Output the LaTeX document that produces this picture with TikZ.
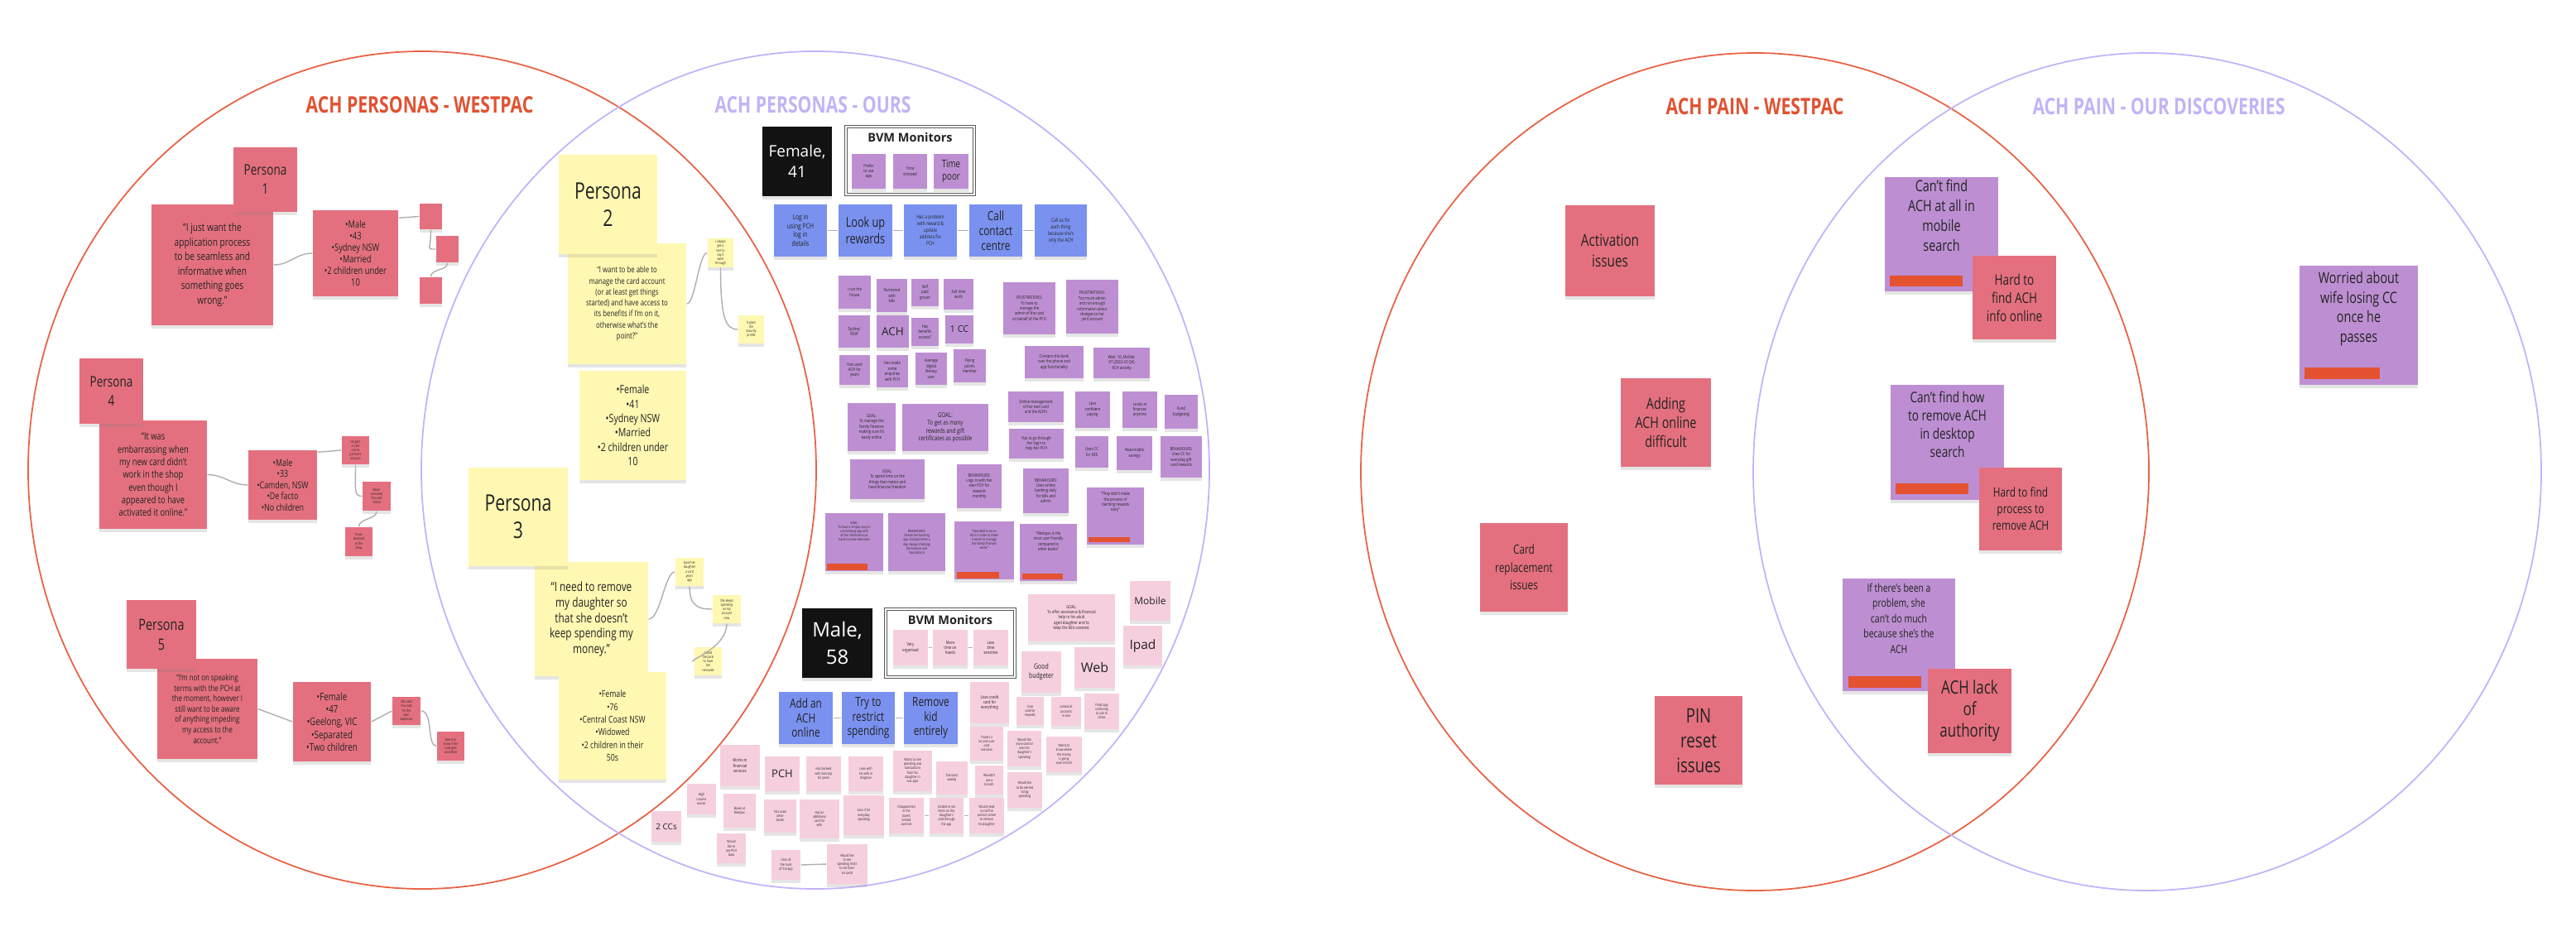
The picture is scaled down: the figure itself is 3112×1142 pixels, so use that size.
\documentclass[tikz,border=0pt]{standalone}
\usepackage{fontspec}
\setmainfont{Open Sans}[FakeStretch=0.77, Scale=1.1]
\newfontfamily\widefont{Open Sans}
\usetikzlibrary{calc,shadows}
\newdimen\pxu \pxu=0.28453pt
\newdimen\pxA \newdimen\pxB
\newcommand\pf[2]{\pxA=#1\pxu\pxB=#2\pxu\fontsize{\the\pxA}{\the\pxB}\selectfont}
\definecolor{redstick}{RGB}{228,112,127}
\definecolor{yelstick}{RGB}{255,248,178}
\definecolor{purstick}{RGB}{189,143,210}
\definecolor{pinkstick}{RGB}{246,207,223}
\definecolor{bluestick}{RGB}{122,145,240}
\definecolor{redbar}{RGB}{228,82,50}
\definecolor{circred}{RGB}{232,98,68}
\definecolor{circpur}{RGB}{196,178,250}
\definecolor{titlered}{RGB}{224,82,50}
\definecolor{titlepur}{RGB}{196,178,246}
\definecolor{inkc}{RGB}{35,35,35}
\definecolor{linkc}{RGB}{175,175,175}
\tikzset{
  sn/.style={inner sep=0pt, align=center, text=inkc,
    drop shadow={shadow xshift=0pt, shadow yshift=-1.1pt, opacity=0.2}},
  rs/.style={sn, fill=redstick},
  ys/.style={sn, fill=yelstick},
  ps/.style={sn, fill=purstick},
  ks/.style={sn, fill=pinkstick},
  bs/.style={sn, fill=bluestick},
  bk/.style={sn, fill=black!93, text=white},
  link/.style={draw=linkc, line width=0.4pt},
  vennred/.style={draw=circred, line width=0.5pt},
  vennpur/.style={draw=circpur, line width=0.5pt},
  bvmbox/.style={inner sep=0pt, draw=black!65, double=white, double distance=0.5pt, line width=0.4pt, fill=white},
  ttl/.style={font=\pf{25}{30}\bfseries},
  tiny/.style={font=\pf{5}{6.4}},
  tiny2/.style={font=\pf{4}{5.2}},
}
\newcommand\stick[7]{\node[#2,minimum width={(#5-#3)*0.01cm},minimum height={(#6-#4)*0.01cm}] (#1) at ({(#3+#5)/2},{(#4+#6)/2}) {#7};}
\newcommand\rbar[5]{\fill[redbar] ($(#1.south west)+(#2,-#3)$) rectangle ($(#1.south west)+(#4,-#5)$);}
\begin{document}
\begin{tikzpicture}[x=0.01cm,y=-0.01cm]
\useasboundingbox[fill=white] (0,0) rectangle (3112,1142);
% ---------------- Venn circles ----------------
\draw[vennred] (510,568) ellipse [x radius=476, y radius=506];
\draw[vennpur] (985,568) ellipse [x radius=476, y radius=506];
\draw[vennred] (2120,570) ellipse [x radius=476, y radius=506];
\draw[vennpur] (2594,570) ellipse [x radius=476, y radius=506];
\node[ttl, text=titlered] (t1) at (507,127) {ACH PERSONAS - WESTPAC};
\node[ttl, text=titlepur] (t2) at (982,127) {ACH PERSONAS - OURS};
\node[ttl, text=titlered] (t3) at (2120,129) {ACH PAIN - WESTPAC};
\node[ttl, text=titlepur] (t4) at (2608,129) {ACH PAIN - OUR DISCOVERIES};

% ---------------- Persona 1 ----------------
\stick{q1}{rs,font=\pf{12}{17.5}}{183}{247}{330}{393}{“I just want the\\application process\\to be seamless and\\informative when\\something goes\\wrong.”}
\stick{p1}{rs,font=\pf{16}{23}}{282}{178}{359}{256}{Persona\\1}
\stick{d1}{rs,font=\pf{11}{14}}{378}{254}{481}{358}{•Male\\•43\\•Sydney NSW\\•Married\\•2 children under\\10}
\stick{s1a}{rs}{507}{246}{534}{277}{}
\stick{s1b}{rs}{527}{285}{554}{317}{}
\stick{s1c}{rs}{507}{335}{534}{367}{}
\draw[link] (q1.east) .. controls +(20,0) and +(-20,0) .. (d1.west);
\draw[link] ($(d1.north east)+(0,10)$) -- (s1a.west);
\draw[link] (s1a.south) .. controls +(0,25) and +(-12,0) .. (s1b.west);
\draw[link] (s1b.south) .. controls +(0,10) and +(0,-10) .. (s1c.north);

% ---------------- Persona 2 ----------------
\stick{q2}{ys,font=\pf{9.2}{13.3}}{686}{294}{829}{440}{“I want to be able to\\manage the card account\\(or at least get things\\started) and have access to\\its benefits if I'm on it,\\otherwise what's the\\point?”}
\stick{p2}{ys,font=\pf{25}{33}}{675}{187}{794}{307}{Persona\\2}
\stick{d2}{ys,font=\pf{12.5}{17.3}}{700}{448}{829}{580}{•Female\\•41\\•Sydney NSW\\•Married\\•2 children under\\10}
\stick{y2a}{ys,tiny2}{855}{288}{886}{323}{I always\\get a\\text to\\say it\\went\\through}
\stick{y2b}{ys,tiny2}{892}{381}{923}{415}{It gives\\me\\security\\profile}
\draw[link] (q2.east) .. controls +(10,0) and +(-10,0) .. (y2a.west);
\draw[link] (y2a.south) .. controls +(0,60) and +(-15,0) .. (y2b.west);

% ---------------- Persona 4 ----------------
\stick{q4}{rs,font=\pf{11}{15.3}}{120}{508}{250}{639}{“It was\\embarrassing when\\my new card didn't\\work in the shop\\even though I\\appeared to have\\activated it online.”}
\stick{p4}{rs,font=\pf{16}{23}}{96}{433}{173}{512}{Persona\\4}
\stick{d4}{rs,font=\pf{10.5}{13.5}}{300}{544}{383}{628}{•Male\\•33\\•Camden, NSW\\•De facto\\•No children}
\stick{s4a}{rs,tiny2}{413}{527}{446}{561}{He gets\\a card\\on his\\partner's\\account}
\stick{s4b}{rs,tiny2}{438}{582}{472}{617}{Never\\activated\\the card\\online}
\stick{s4c}{rs,tiny2}{417}{637}{450}{672}{It was\\declined\\at the\\shop}
\draw[link] (q4.east) .. controls +(20,0) and +(-20,0) .. (d4.west);
\draw[link] ($(d4.north east)+(0,3)$) -- (s4a.west);
\draw[link] (s4a.south) .. controls +(0,30) and +(-10,0) .. (s4b.west);
\draw[link] (s4b.south) .. controls +(0,10) and +(0,-10) .. (s4c.north);

% ---------------- Persona 5 ----------------
\stick{q5}{rs,font=\pf{9.3}{12.6}}{190}{796}{311}{917}{“I'm not on speaking\\terms with the PCH at\\the moment, however I\\still want to be aware\\of anything impeding\\my access to the\\account.”}
\stick{p5}{rs,font=\pf{17}{24}}{153}{725}{237}{808}{Persona\\5}
\stick{d5}{rs,font=\pf{11.5}{15.3}}{354}{824}{448}{920}{•Female\\•47\\•Geelong, VIC\\•Separated\\•Two children}
\stick{s5a}{rs,tiny2}{474}{842}{508}{876}{She uses\\the card\\for the\\kids'\\expenses}
\stick{s5b}{rs,tiny2}{528}{884}{561}{919}{Wants to\\know if the\\card gets\\cancelled}
\draw[link] (q5.east) -- (d5.west);
\draw[link] (d5.east) -- (s5a.west);
\draw[link] (s5a.east) .. controls +(15,0) and +(-12,0) .. (s5b.west);

% ---------------- Persona 3 ----------------
\stick{q3}{ys,font=\pf{14}{18.5}}{646}{679}{783}{817}{“I need to remove\\my daughter so\\that she doesn't\\keep spending my\\money.”}
\stick{p3}{ys,font=\pf{25}{33}}{566}{565}{686}{684}{Persona\\3}
\stick{d3}{ys,font=\pf{10.3}{15.3}}{675}{812}{805}{942}{•Female\\•76\\•Central Coast NSW\\•Widowed\\•2 children in their\\50s}
\stick{y3a}{ys,tiny2}{816}{674}{850}{708}{Gave her\\daughter\\a card\\years\\ago}
\stick{y3b}{ys,tiny2}{861}{719}{895}{753}{She keeps\\spending\\on my\\account\\now}
\stick{y3c}{ys,tiny2}{839}{782}{872}{816}{Called\\the bank\\to have\\her\\removed}
\draw[link] (q3.east) .. controls +(14,0) and +(-12,0) .. (y3a.west);
\draw[link] (y3a.south) .. controls +(0,25) and +(-15,0) .. (y3b.west);
\draw[link] (y3b.south) .. controls +(0,30) and +(-10,0) .. (y3c.west);

% ---------------- Female, 41 ----------------
\stick{fem}{bk,font=\widefont\pf{19}{25}}{921}{153}{1005}{237}{Female,\\41}
\node[bvmbox,minimum width=1.55cm,minimum height=0.82cm] (bvm1) at (1099.5,194) {};
\node[font=\widefont\pf{14.5}{17}\bfseries, text=inkc] (bvm1t) at ($(bvm1.north)+(0,14)$) {BVM Monitors};
\stick{b1a}{ps,tiny}{1029}{186}{1070}{228}{Prefer\\to use\\app}
\stick{b1b}{ps,tiny}{1079}{186}{1120}{228}{Time\\stressed}
\stick{b1c}{ps,font=\pf{11.5}{15}}{1128}{186}{1170}{228}{Time\\poor}
\stick{u1}{bs,font=\pf{8}{10.5}}{935}{247}{999}{310}{Log in\\using PCH\\log in\\details}
\stick{u2}{bs,font=\pf{15}{19.5}}{1013}{247}{1078}{310}{Look up\\rewards}
\stick{u3}{bs,font=\pf{5.8}{8}}{1092}{247}{1156}{310}{Has a problem\\with reward \&\\update\\address for\\PCH}
\stick{u4}{bs,font=\pf{14}{18}}{1171}{247}{1235}{310}{Call\\contact\\centre}
\stick{u5}{bs,font=\pf{5.8}{8}}{1250}{247}{1313}{310}{Call us for\\each thing\\because she's\\only the ACH}
\draw[link] (u1.east) -- (u2.west);
\draw[link] (u2.east) -- (u3.west);
\draw[link] (u3.east) -- (u4.west);
\draw[link] (u4.east) -- (u5.west);

% purple grid
\stick{g1}{ps,tiny}{1013}{333}{1052}{373}{I run the\\house}
\stick{g2}{ps,tiny}{1059}{337}{1096}{377}{Partnered\\with\\kids}
\stick{g3}{ps,tiny}{1101}{337}{1134}{370}{Self\\paid\\grocer}
\stick{g4}{ps,tiny}{1140}{337}{1176}{374}{Full time\\work}
\stick{g5}{ps,tiny}{1013}{381}{1051}{420}{'Sydney'\\NSW}
\stick{g6}{ps,font=\widefont\pf{13.5}{16}}{1059}{381}{1098}{420}{ACH}
\stick{g7}{ps,tiny}{1101}{384}{1134}{418}{Has\\benefits\\access?}
\stick{g8}{ps,font=\widefont\pf{11}{14}}{1142}{381}{1176}{415}{1 CC}
\stick{g9}{ps,tiny}{1014}{429}{1051}{465}{Has used\\ACH for\\years}
\stick{g10}{ps,tiny}{1059}{429}{1097}{468}{Has made\\some\\enquiries\\with PCH}
\stick{g11}{ps,tiny}{1106}{426}{1144}{465}{Average\\digital\\literacy\\user}
\stick{g12}{ps,tiny}{1152}{422}{1191}{462}{Flying\\points\\member}
\stick{g13}{ps,tiny}{1212}{341}{1275}{404}{FRUSTRATIONS:\\To have to\\manage the\\admin of the card\\on behalf of the PCH}
\stick{g14}{ps,tiny}{1288}{338}{1351}{403}{FRUSTRATIONS:\\Too much admin\\and not enough\\information about\\changes to her\\joint account}
\stick{g15}{ps,tiny}{1238}{418}{1309}{457}{Contacts the bank\\over the phone and\\app functionality}
\stick{g16}{ps,tiny}{1321}{420}{1389}{457}{Web: 10, Mobile:\\47 (2022-23 Q4)\\ACH activity}
\stick{g17}{ps,tiny}{1024}{487}{1082}{545}{GOAL:\\To manage the\\family finances\\making sure it's\\easily online}
\stick{g18}{ps,font=\pf{7.3}{9.5}}{1090}{488}{1194}{545}{GOAL:\\To get as many\\rewards and gift\\certificates as possible}
\stick{g19}{ps,tiny}{1027}{555}{1117}{603}{GOAL:\\To spend time on the\\things that matter and\\have financial freedom}
\stick{g20}{ps,tiny}{1156}{561}{1210}{614}{BEHAVIOURS:\\Logs in with her\\own PCH for\\rewards\\monthly}
\stick{g21}{ps,tiny}{1236}{566}{1291}{620}{BEHAVIOURS:\\Uses online\\banking daily\\for bills and\\admin}
\stick{g22}{ps,tiny}{1218}{473}{1285}{510}{Online management\\of her own card\\and the ACH's}
\stick{g23}{ps,tiny}{1219}{518}{1285}{554}{Has to go through\\her login to\\help her PCH}
\stick{g24}{ps,tiny}{1299}{473}{1341}{517}{Less\\confident\\paying}
\stick{g25}{ps,tiny}{1356}{473}{1398}{517}{Looks at\\finances\\anytime}
\stick{g26}{ps,tiny}{1407}{477}{1447}{518}{Fund\\budgeting}
\stick{g27}{ps,tiny}{1299}{527}{1339}{565}{Uses CC\\for \$\$\$}
\stick{g28}{ps,tiny}{1349}{527}{1392}{568}{Reasonable\\savings}
\stick{g29}{ps,tiny}{1402}{527}{1452}{577}{BEHAVIOURS:\\Uses CC for\\everyday gift\\card rewards}
\stick{g30}{ps,tiny}{1313}{589}{1382}{658}{“They didn't make\\the process of\\claiming rewards\\easy”\\[8pt]}
\stick{g31}{ps,tiny2}{997}{620}{1067}{690}{GOAL:\\To have a simple, easy to\\use banking app with\\all the information at\\hand to make decisions\\[6pt]}
\stick{g32}{ps,tiny2}{1073}{620}{1142}{690}{BEHAVIOURS:\\Checks her banking\\app multiple times a\\day, always checking\\the balance and\\transactions}
\stick{g33}{ps,tiny2}{1153}{630}{1225}{700}{“I decided to be an\\ACH in order to make\\it easier to manage\\the family finances\\easier”\\[6pt]}
\stick{g34}{ps,tiny}{1232}{633}{1301}{702}{“Westpac is the\\most user friendly\\compared to\\other banks”\\[6pt]}
\rbar{g30}{3}{4}{53}{10}
\rbar{g31}{3}{2}{52}{10}
\rbar{g33}{4}{2}{55}{10}
\rbar{g34}{4}{3}{53}{10}

% ---------------- Male, 58 ----------------
\stick{male}{bk,font=\widefont\pf{24}{33}}{969}{735}{1054}{819}{Male,\\58}
\node[bvmbox,minimum width=1.56cm,minimum height=0.82cm] (bvm2) at (1148,777) {};
\node[font=\widefont\pf{14.5}{17}\bfseries, text=inkc] (bvm2t) at ($(bvm2.north)+(0,14)$) {BVM Monitors};
\stick{c1}{ks,tiny}{1079}{761}{1121}{804}{Very\\organised}
\stick{c2}{ks,tiny}{1127}{761}{1169}{804}{More\\time on\\hands}
\stick{c3}{ks,tiny}{1176}{761}{1218}{804}{Less\\time\\sensitive}
\draw[link] (c1.east) -- (c2.west);
\draw[link] (c2.east) -- (c3.west);
\stick{v1}{bs,font=\pf{14}{17.5}}{941}{836}{1006}{899}{Add an\\ACH\\online}
\stick{v2}{bs,font=\pf{14}{17.5}}{1017}{836}{1081}{899}{Try to\\restrict\\spending}
\stick{v3}{bs,font=\pf{14}{17.5}}{1092}{836}{1157}{899}{Remove\\kid\\entirely}
\draw[link] (v1.east) -- (v2.west);
\draw[link] (v2.east) -- (v3.west);
\stick{k1}{ks,tiny}{1242}{718}{1347}{775}{GOAL:\\To offer assistance \& financial\\help to his adult\\aged daughter and to\\keep the bills covered.}
\stick{k2}{ks,font=\widefont\pf{12}{15}}{1365}{702}{1414}{750}{Mobile}
\stick{k3}{ks,font=\widefont\pf{15.5}{18}}{1357}{756}{1404}{804}{Ipad}
\stick{k4}{ks,font=\pf{8.2}{11}}{1234}{787}{1282}{837}{Good\\budgeter}
\stick{k5}{ks,font=\widefont\pf{16}{19}}{1298}{782}{1347}{831}{Web}
\stick{k6}{ks,tiny}{1172}{824}{1219}{874}{Uses credit\\card for\\everything}
\stick{k7}{ks,tiny2}{1228}{842}{1261}{876}{Uses\\card for\\rewards}
\stick{k8}{ks,tiny2}{1270}{842}{1306}{877}{Linked all\\accounts\\in one}
\stick{k9}{ks,tiny2}{1310}{838}{1352}{881}{Finds app\\confusing\\to use at\\times}
\stick{k10}{ks,tiny2}{1172}{878}{1212}{919}{Travels a\\lot and uses\\card\\overseas}
\stick{k11}{ks,tiny2}{1217}{883}{1258}{926}{Would like\\more control\\over his\\daughter's\\spending}
\stick{k12}{ks,tiny2}{1264}{890}{1307}{933}{Wants to\\know where\\the money\\is going\\each month}
\stick{k13}{ks,tiny2}{1178}{925}{1212}{960}{Wouldn't\\use a\\branch}
\stick{k14}{ks,tiny2}{1217}{933}{1259}{976}{Would like\\to be alerted\\to big\\spending}
\stick{k15}{ks,tiny}{870}{900}{918}{950}{Works in\\financial\\services}
\stick{k16}{ks,font=\widefont\pf{13}{16}}{924}{914}{966}{956}{PCH}
\stick{k17}{ks,tiny2}{974}{914}{1016}{956}{Has banked\\with Suncorp\\for years}
\stick{k18}{ks,tiny2}{1025}{914}{1067}{956}{Lives with\\his wife in\\Kingston}
\stick{k19}{ks,tiny2}{1079}{907}{1126}{956}{Wants to see\\spending and\\transactions\\from his\\daughter in\\one spot}
\stick{k20}{ks,tiny2}{1131}{920}{1169}{960}{Transacts\\weekly}
\stick{k21}{ks,font=\widefont\pf{10}{12}}{787}{980}{823}{1017}{2 CCs}
\stick{k22}{ks,tiny2}{830}{947}{865}{984}{High\\income\\earner}
\stick{k23}{ks,tiny2}{874}{959}{913}{1000}{Banks at\\Westpac}
\stick{k24}{ks,tiny2}{923}{966}{962}{1006}{Has used\\other\\banks}
\stick{k25}{ks,tiny2}{966}{966}{1014}{1013}{Has an\\additional\\card for\\wife}
\stick{k26}{ks,tiny2}{1019}{961}{1068}{1009}{Uses it for\\everyday\\spending}
\stick{k27}{ks,tiny2}{1074}{964}{1116}{1007}{Disappointed\\in the\\bank's\\limited\\controls}
\stick{k28}{ks,tiny2}{1123}{964}{1164}{1007}{Unable to set\\limits on the\\daughter's\\card through\\the app}
\stick{k29}{ks,tiny2}{1171}{964}{1213}{1007}{Would need\\to call the\\contact centre\\to remove\\his daughter}
\draw[link] (k27.east) -- (k28.west);
\draw[link] (k28.east) -- (k29.west);
\stick{k30}{ks,tiny2}{866}{1007}{901}{1043}{Would\\like to\\see PCH\\data}
\stick{k31}{ks,tiny2}{932}{1027}{967}{1063}{Uses all\\the tools\\of the app}
\stick{k32}{ks,tiny2}{999}{1020}{1048}{1068}{Would like\\to see\\spending limits\\to set them\\on cards}
\draw[link] (k31.east) -- (k32.west);

% ---------------- ACH PAIN ----------------
\stick{r1}{rs,font=\pf{18}{25.5}}{1891}{248}{1999}{358}{Activation\\issues}
\stick{r2}{rs,font=\pf{17}{23}}{1958}{457}{2067}{564}{Adding\\ACH online\\difficult}
\stick{r3}{rs,font=\pf{14}{21.5}}{1788}{632}{1894}{739}{Card\\replacement\\issues}
\stick{r4}{rs,font=\pf{22}{30}}{1999}{841}{2105}{948}{PIN\\reset\\issues}
\stick{r5}{ps,font=\pf{17}{24}}{2277}{214}{2414}{352}{Can't find\\ACH at all in\\mobile\\search\\[6pt]}
\rbar{r5}{7}{7}{95}{20}
\stick{r6}{rs,font=\pf{16}{22}}{2383}{309}{2484}{410}{Hard to\\find ACH\\info online}
\stick{r7}{ps,font=\pf{17}{23.5}}{2778}{321}{2921}{465}{Worried about\\wife losing CC\\once he\\passes\\[6pt]}
\rbar{r7}{7}{8}{98}{22}
\stick{r8}{ps,font=\pf{16}{22}}{2284}{465}{2421}{604}{Can't find how\\to remove ACH\\in desktop\\search\\[6pt]}
\rbar{r8}{7}{8}{95}{21}
\stick{r9}{rs,font=\pf{14}{20}}{2391}{565}{2491}{665}{Hard to find\\process to\\remove ACH}
\stick{r10}{ps,font=\pf{12.3}{18.5}}{2226}{699}{2362}{835}{If there's been a\\problem, she\\can't do much\\because she's the\\ACH\\[6pt]}
\rbar{r10}{8}{5}{96}{19}
\stick{r11}{rs,font=\pf{20}{26}}{2329}{808}{2430}{910}{ACH lack\\of\\authority}
\end{tikzpicture}
\end{document}
